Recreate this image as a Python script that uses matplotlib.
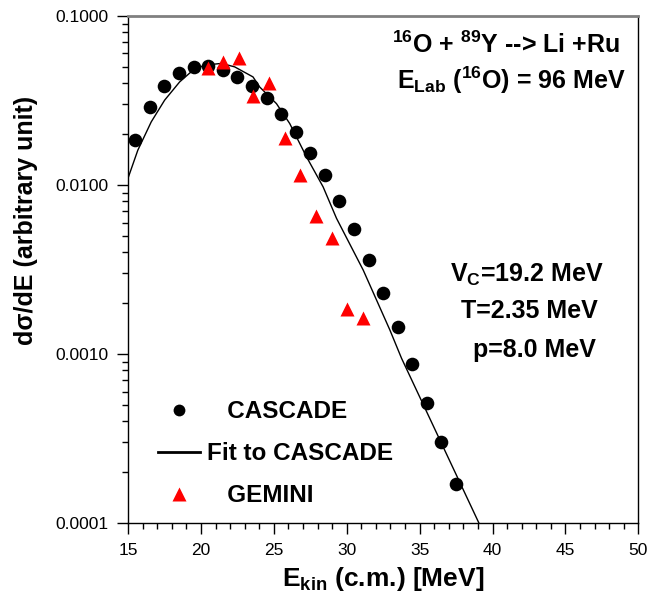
import matplotlib.pyplot as plt
from matplotlib.lines import Line2D
from matplotlib.ticker import FixedLocator, MultipleLocator, NullFormatter

plt.rcParams['font.family'] = ['Liberation Sans', 'DejaVu Sans']
plt.rcParams['mathtext.fontset'] = 'custom'
plt.rcParams['mathtext.rm'] = 'Liberation Sans:bold'
plt.rcParams['mathtext.it'] = 'Liberation Sans:bold'
plt.rcParams['mathtext.bf'] = 'Liberation Sans:bold'

# CASCADE spectrum
cascade_e = [15.5, 16.5, 17.5, 18.5, 19.5, 20.5, 21.5, 22.5, 23.5, 24.5, 25.5, 26.5,
             27.5, 28.5, 29.5, 30.5, 31.5, 32.5, 33.5, 34.5, 35.5, 36.5, 37.5]
cascade_y = [0.0185, 0.0290, 0.0386, 0.0461, 0.0497, 0.0506, 0.0479, 0.0437, 0.0386,
             0.0325, 0.0262, 0.0206, 0.0155, 0.0114, 0.00803, 0.00547, 0.00360,
             0.00231, 0.00145, 0.000873, 0.000515, 0.000300, 0.000170]

# GEMINI spectrum
gemini_e = [20.5, 21.5, 22.6, 23.6, 24.7, 25.8, 26.8, 27.9, 29.0, 30.0, 31.1]
gemini_y = [0.0494, 0.0537, 0.0562, 0.0337, 0.0400, 0.0189, 0.0115, 0.00656,
            0.00484, 0.00184, 0.00163]

# fit to CASCADE (Vc=19.2 MeV, T=2.35 MeV, p=8.0 MeV)
fit_e = [15.03, 15.67, 16.59, 17.51, 18.54, 19.45, 20.25, 21.40, 22.31, 23.57,
         24.03, 25.18, 26.09, 27.24, 28.38, 29.30, 31.13, 32.96, 33.76, 39.07]
fit_y = [0.01118, 0.01607, 0.02363, 0.03177, 0.04074, 0.04775, 0.05117, 0.05240,
         0.0500, 0.0436, 0.0380, 0.0303, 0.0231, 0.01468, 0.00975, 0.00635,
         0.00314, 0.001388, 0.000944, 0.0001]

y_ticks = [0.0001, 0.001, 0.01, 0.1]
y_labels = ['0.0001', '0.0010', '0.0100', '0.1000']

fig = plt.figure(figsize=(6.5, 6.14), dpi=100)
ax = fig.add_axes([0.197, 0.148, 0.785, 0.826])

ax.plot(fit_e, fit_y, color='black', lw=1.0)
ax.plot(cascade_e, cascade_y, 'o', color='black', ms=9.8, mec='none')
ax.plot(gemini_e, gemini_y, '^', color='red', ms=10.5, mec='none')

ax.set_yscale('log')
ax.set_xlim(15, 50)
ax.set_ylim(0.0001, 0.1)
ax.yaxis.set_major_locator(FixedLocator(y_ticks))
ax.set_yticklabels(y_labels)
ax.yaxis.set_minor_formatter(NullFormatter())
ax.xaxis.set_major_locator(MultipleLocator(5))
ax.xaxis.set_minor_locator(MultipleLocator(1))
ax.tick_params(which='major', length=8, width=1, labelsize=12.5, pad=6)
ax.tick_params(which='minor', length=4, width=1)

for s in ['left', 'bottom', 'right']:
    ax.spines[s].set_linewidth(1.0)
ax.spines['top'].set_color('#808080')
ax.spines['top'].set_linewidth(2.0)

ax.set_xlabel(r'E$_{\mathregular{kin}}$ (c.m.) [MeV]', fontsize=19, fontweight='bold', labelpad=5)
ax.set_ylabel('dσ/dE (arbitrary unit)', fontsize=18, fontweight='bold')
ax.yaxis.set_label_coords(-0.176, 0.596)

txt = dict(fontsize=18, fontweight='bold', transform=ax.transAxes, ha='center', va='center')
ax.text(0.74, 0.943, r'$^{16}$O + $^{89}$Y --> Li +Ru', **txt)
ax.text(0.752, 0.874, r'E$_{\mathregular{Lab}}$ ($^{16}$O) = 96 MeV', **txt)
ax.text(0.782, 0.490, r'V$_{\mathregular{C}}$=19.2 MeV', **txt)
ax.text(0.786, 0.418, 'T=2.35 MeV', **txt)
ax.text(0.797, 0.341, 'p=8.0 MeV', **txt)

handles = [
    Line2D([], [], marker='o', ls='none', color='black', ms=8.5, mec='none'),
    Line2D([], [], color='black', lw=2),
    Line2D([], [], marker='^', ls='none', color='red', ms=9.5, mec='none'),
]
labels = ['   CASCADE', 'Fit to CASCADE', '   GEMINI']
ax.legend(handles, labels, loc='lower left', bbox_to_anchor=(0.016, -0.012),
          frameon=False, handlelength=1.73, handletextpad=0.3, labelspacing=0.78,
          prop={'family': 'Liberation Sans', 'weight': 'bold', 'size': 17.5})

fig.savefig('out.png', dpi=100)
